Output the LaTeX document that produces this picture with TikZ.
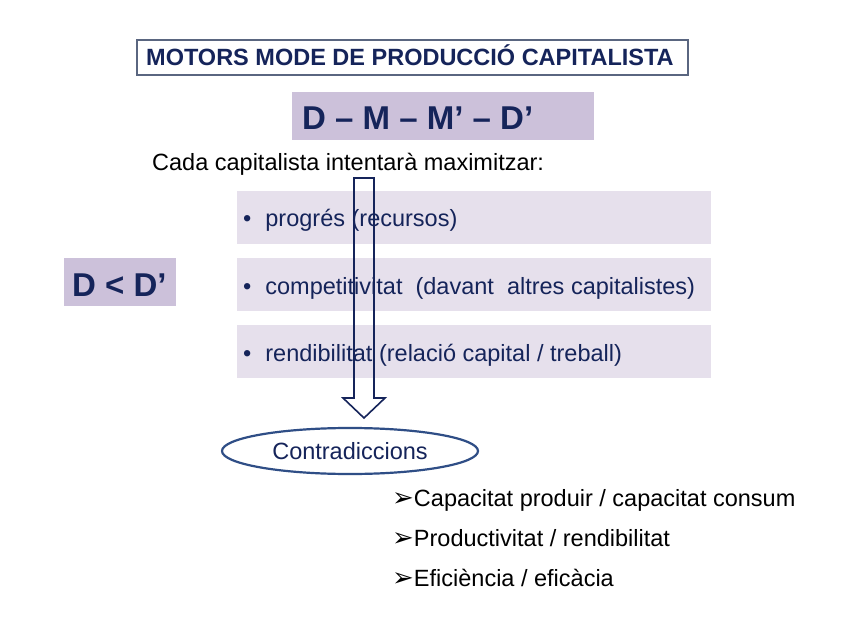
\documentclass[tikz,border=0pt]{standalone}
\usepackage{fontspec}
\setmainfont{Liberation Sans}
\newfontfamily\symfont{DejaVu Sans}
\usetikzlibrary{positioning}
\definecolor{navy}{HTML}{15245A}
\definecolor{lilac}{HTML}{CCC1DA}
\definecolor{palelilac}{HTML}{E6E0EC}
\definecolor{framegray}{HTML}{5A6680}
\definecolor{ringblue}{HTML}{2F4E86}
\tikzset{
  item/.style={anchor=base west, text=navy, font=\fontsize{23.5}{28}\selectfont, inner sep=0pt},
  point/.style={anchor=base west, text=black, font=\fontsize{23.5}{28}\selectfont, inner sep=0pt},
  big/.style={anchor=base west, text=navy, font=\bfseries\fontsize{33}{38}\selectfont, inner sep=0pt}
}
\newcommand{\tick}{{\symfont\fontsize{26}{28}\selectfont ➢}}
\begin{document}
\begin{tikzpicture}[x=1pt, y=-1pt]
\useasboundingbox[fill=white](0,0)rectangle(848,636);

\draw[framegray, line width=1.2](137,40)rectangle(688,75);
\node[anchor=base west, text=navy, font=\bfseries\fontsize{23.5}{28}\selectfont, inner sep=0pt](title) at (146,66){MOTORS MODE DE PRODUCCIÓ CAPITALISTA};

\fill[lilac](292,92)rectangle(594,140);
\node[big](cycle) at (302,130){D -- M -- M' -- D'};

\node[point](intro) at (152,171){Cada capitalista intentarà maximitzar:};

\foreach \y in {191,258,325}
{
    \fill[palelilac](237,\y)rectangle(711,\y+53);
}
\node[item](progres) at (243,227){\textbullet\hspace{14pt}progrés (recursos)};
\node[item](compet) at (243,294){\textbullet\hspace{14pt}competitivitat~~(davant~~altres capitalistes)};
\node[item](rendib) at (243,361){\textbullet\hspace{14pt}rendibilitat (relació capital / treball)};

\fill[lilac](64,258)rectangle(176,306);
\node[big](ineq) at (72,296){D < D'};

\draw[navy, line width=1.6, line join=miter](354,178)--(374,178)--(374,398)--(385,398)--(364,418)--(343,398)--(354,398)--cycle;

\draw[ringblue, line width=2.2](350,451)ellipse(128 and 23);
\node[anchor=base, text=navy, font=\fontsize{23.5}{28}\selectfont, inner sep=0pt](contra) at (350,459){Contradiccions};

\node[point](c1) at (392,506){\tick Capacitat produir / capacitat consum};
\node[point](c2) at (392,546){\tick Productivitat / rendibilitat};
\node[point](c3) at (392,586){\tick Eficiència / eficàcia};
\end{tikzpicture}
\end{document}
